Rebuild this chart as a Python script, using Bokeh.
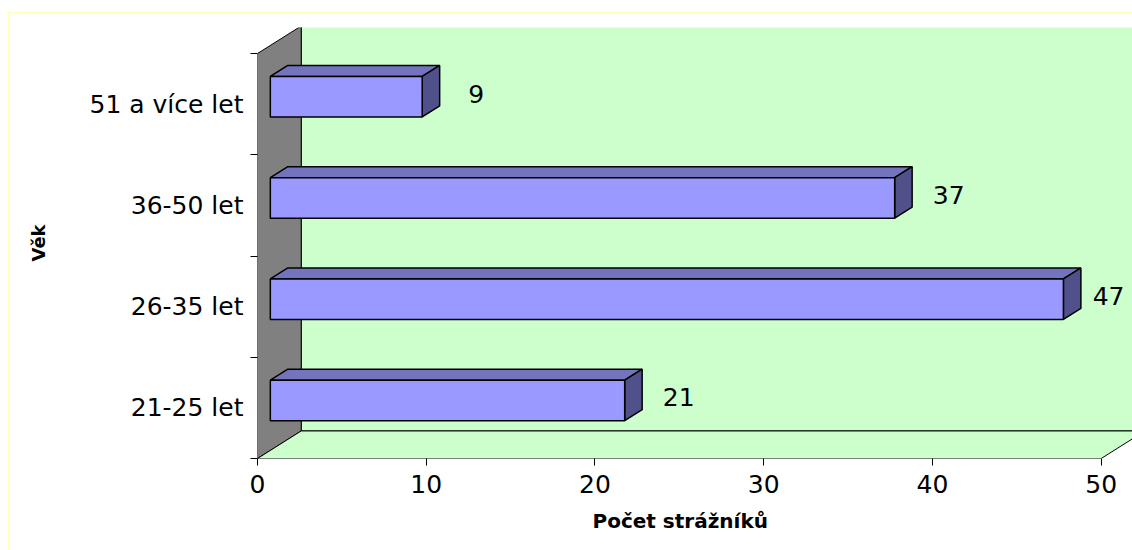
import numpy as np
from bokeh.plotting import figure
from bokeh.models import FixedTicker, InlineStyleSheet, Title
from bokeh.embed import file_html
from bokeh.resources import INLINE
from bokeh.core.properties import value

# ---- data ----
categories = ["21-25 let", "26-35 let", "36-50 let", "51 a více let"]
counts = [21, 47, 37, 9]
x_ticks = [0, 10, 20, 30, 40, 50]
x_title = "Počet strážníků"
y_title = "Věk"

# ---- 3D geometry (data units) ----
X_MAX = 50
N = len(categories)
DX, DY = 2.59, 0.272          # full depth of the walls
BAR_FRONT, BAR_BACK = 0.27, 0.67
BAR_X0 = 0.76
BAR_H = 0.4
FONT = "DejaVu Sans"
FS = "25px"

p = figure(width=1132, height=550, output_backend="svg", toolbar_location=None,
           x_range=(0, 51.855), y_range=(0, 4.257),
           min_border_left=257, min_border_right=0, min_border_top=27,
           min_border_bottom=92)
p.grid.visible = False
p.outline_line_color = None
p.background_fill_color = "white"
p.border_fill_color = None
p.stylesheets = [InlineStyleSheet(css=(
    ":host { background:"
    " linear-gradient(#FFFFB0,#FFFFB0) 8px 12px / 1px 560px no-repeat,"
    " linear-gradient(#FFFFB0,#FFFFB0) 8px 12px / 1140px 1px no-repeat,"
    " white; }"))]

# back wall
p.quad(left=DX, right=X_MAX + DX + 5, bottom=DY, top=N + DY,
       fill_color="#CCFFCC", line_color="black", line_width=1)
# side wall
p.patch([0, DX, DX, 0], [0, DY, N + DY, N], fill_color="#808080",
        line_color="black", line_width=1)
# floor
p.patch([0, X_MAX, X_MAX + DX, DX], [0, 0, DY, DY], fill_color="#CCFFCC",
        line_color="black", line_width=1)

vals = np.array(counts, dtype=float)
centers = np.arange(N) + 0.5
fdy = BAR_FRONT * DY
bdx = (BAR_BACK - BAR_FRONT) * DX
bdy = (BAR_BACK - BAR_FRONT) * DY
x0 = np.full(N, BAR_X0)
x1 = BAR_X0 + vals
yb = centers - BAR_H / 2 + fdy
yt = centers + BAR_H / 2 + fdy

top_xs = [[a, a + bdx, b + bdx, b] for a, b in zip(x0, x1)]
top_ys = [[t, t + bdy, t + bdy, t] for t in yt]
side_xs = [[b, b + bdx, b + bdx, b] for b in x1]
side_ys = [[lo, lo + bdy, hi + bdy, hi] for lo, hi in zip(yb, yt)]

p.patches(top_xs, top_ys, fill_color="#7474BE", line_color="black", line_width=1.5)
p.patches(side_xs, side_ys, fill_color="#50508A", line_color="black", line_width=1.5)
p.quad(left=x0, right=x1, bottom=yb, top=yt, fill_color="#9999FF",
       line_color="black", line_width=1.5)

# value labels
p.text(x=np.minimum(vals + 3.96, 50.44), y=centers + fdy + 0.03,
       text=[str(c) for c in counts], text_align="center", text_baseline="middle",
       text_font=value(FONT), text_font_size=FS, text_color="black")

# x axis
xa = p.xaxis[0]
xa.ticker = FixedTicker(ticks=x_ticks)
xa.axis_line_color = None
xa.major_tick_out = 7
xa.major_tick_in = 0
xa.minor_tick_out = 0
xa.minor_tick_in = 0
xa.major_tick_line_color = "black"
xa.major_label_text_font = FONT
xa.major_label_text_font_size = FS
xa.major_label_text_color = "black"
xa.major_label_standoff = 9

# x axis title, placed under the middle of the 0..50 axis
p.add_layout(Title(text=x_title, align="left", offset=335,
                   text_font=FONT, text_font_style="bold", text_font_size="20px",
                   text_color="black", standoff=23), "below")

# y axis
ya = p.yaxis[0]
ya.ticker = FixedTicker(ticks=list(centers), minor_ticks=list(range(N + 1)))
ya.major_label_overrides = {float(c): lab for c, lab in zip(centers, categories)}
ya.axis_line_color = None
ya.major_tick_out = 0
ya.major_tick_in = 0
ya.minor_tick_out = 7
ya.minor_tick_in = 0
ya.minor_tick_line_color = "black"
ya.major_label_text_font = FONT
ya.major_label_text_font_size = FS
ya.major_label_text_color = "black"
ya.major_label_standoff = 7
ya.axis_label = y_title
ya.axis_label_text_font = FONT
ya.axis_label_text_font_style = "bold"
ya.axis_label_text_font_size = "18px"
ya.axis_label_text_color = "black"
ya.axis_label_standoff = 38

open("out.html", "w").write(file_html(p, INLINE))
